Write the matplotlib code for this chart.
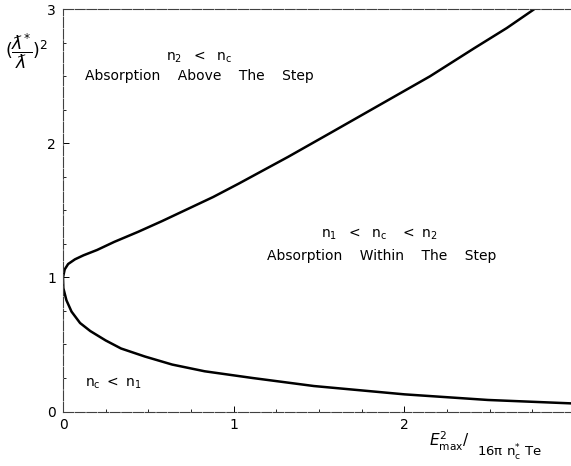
import matplotlib
matplotlib.use("Agg")
import matplotlib.pyplot as plt
from matplotlib.ticker import MultipleLocator

# boundary curve, upper branch (from the vertex up)
upper_x = [0.0, 0.01, 0.03, 0.07, 0.12, 0.20, 0.30, 0.44, 0.58, 0.73, 0.88, 1.03,
           1.32, 1.57, 1.86, 2.15, 2.41, 2.60, 2.76]
upper_y = [1.0, 1.06, 1.10, 1.135, 1.165, 1.205, 1.265, 1.34, 1.42, 1.51, 1.60, 1.70,
           1.90, 2.08, 2.29, 2.50, 2.71, 2.86, 3.0]

# lower branch (from the vertex down)
lower_x = [0.0, 0.002, 0.02, 0.05, 0.10, 0.16, 0.25, 0.34, 0.48, 0.64, 0.83, 1.11,
           1.47, 2.0, 2.49, 2.97, 3.0]
lower_y = [1.0, 0.92, 0.83, 0.745, 0.66, 0.60, 0.53, 0.47, 0.41, 0.35, 0.30, 0.25,
           0.19, 0.128, 0.086, 0.061, 0.06]

ticks = [0, 1, 2, 3]
xtick_labels = ['0', '1', '2', '']
ytick_labels = ['0', '1', '2', '3']

plt.rcParams['font.family'] = ['DejaVu Sans']
plt.rcParams['mathtext.fontset'] = 'dejavusans'

fig = plt.figure(figsize=(5.71, 4.66), dpi=100)
ax = fig.add_axes([63/571, 1 - 411.5/466, 512/571, 402.2/466])

ax.plot(upper_x, upper_y, color='black', lw=1.8, solid_joinstyle='round', solid_capstyle='round')
ax.plot(lower_x, lower_y, color='black', lw=1.8, solid_joinstyle='round', solid_capstyle='round')

ax.set_xlim(0, 3)
ax.set_ylim(0, 3)
ax.set_xticks(ticks)
ax.set_xticklabels(xtick_labels)
ax.set_yticks(ticks)
ax.set_yticklabels(ytick_labels)
ax.xaxis.set_minor_locator(MultipleLocator(0.25))
ax.yaxis.set_minor_locator(MultipleLocator(0.25))
ax.tick_params(which='major', direction='in', length=4, width=0.7, labelsize=10, pad=5)
ax.tick_params(which='minor', direction='in', length=2, width=0.6)

for side in ['top', 'left', 'bottom']:
    ax.spines[side].set_color('0.25')
    ax.spines[side].set_linewidth(0.8)
    ax.spines[side].set_linestyle((0, (9, 1.5)))
ax.spines['right'].set_visible(False)

# region labels
ax.text(0.80, 2.64, r'$\mathregular{n_2\ \ <\ \ n_c}$', ha='center', va='center', fontsize=10)
ax.text(0.80, 2.50, 'Absorption    Above    The    Step', ha='center', va='center', fontsize=10)
ax.text(1.85, 1.32, r'$\mathregular{n_1\ \ <\ \ n_c\ \ \ <\ n_2}$', ha='center', va='center', fontsize=10)
ax.text(1.87, 1.16, 'Absorption    Within    The    Step', ha='center', va='center', fontsize=10)
ax.text(0.13, 0.21, r'$\mathregular{n_c\ <\ n_1}$', ha='left', va='center', fontsize=10)

# axis labels
fig.text(5/571, 1 - 51/466, r'$(\dfrac{ƛ^{*}}{ƛ})^{2}$', ha='left', va='center', fontsize=12.5)
fig.text(429/571, 1 - 441/466, r'$E^{2}_{\mathregular{max}}/$', ha='left', va='center', fontsize=11)
fig.text(477/571, 1 - 453/466, r'$\mathregular{16\pi\ n^{*}_{c}\ Te}$', ha='left', va='center', fontsize=9.5)

fig.savefig('out.png', dpi=100)
